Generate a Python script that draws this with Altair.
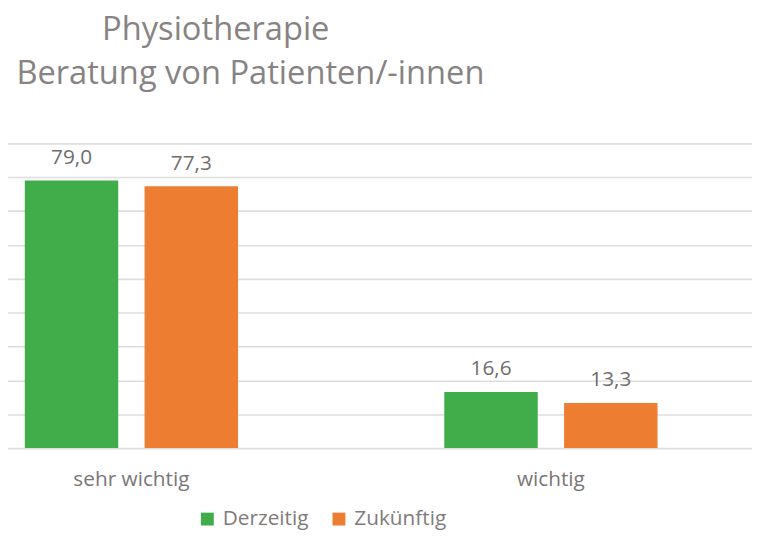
import altair as alt
import pandas as pd

categories = ["sehr wichtig", "wichtig"]
series = ["Derzeitig", "Zukünftig"]
derzeitig = [79.0, 16.6]
zukuenftig = [77.3, 13.3]
colors = ["#41ad4a", "#ed7d31"]
title_lines = ["Physiotherapie", "Beratung von Patienten/-innen"]
grid_values = [0, 10, 20, 30, 40, 50, 60, 70, 80, 90]

rows = []
for i, c in enumerate(categories):
    rows.append({"cat": c, "series": series[0], "value": derzeitig[i]})
    rows.append({"cat": c, "series": series[1], "value": zukuenftig[i]})
df = pd.DataFrame(rows)
df["label"] = df["value"].map(lambda v: f"{v:.1f}".replace(".", ","))

FONT = "Open Sans"
LEFT = -78.5  # plot area starts left of the visible page (cropped chart)
W = 752 - LEFT

x_enc = alt.X(
    "cat:N",
    sort=categories,
    scale=alt.Scale(paddingInner=0.4917, paddingOuter=0.2252),
    axis=alt.Axis(
        title=None, labelFontSize=21, labelColor="#7a7676", labelFont=FONT,
        ticks=False, tickSize=0, domain=False, labelPadding=38,
        labelBaseline="alphabetic", labelAngle=0, grid=False,
    ),
)
xo_enc = alt.XOffset("series:N", sort=series, scale=alt.Scale(paddingInner=0.22, paddingOuter=0))
y_enc = alt.Y(
    "value:Q",
    scale=alt.Scale(domain=[0, 90], nice=False),
    axis=alt.Axis(
        title=None, labels=False, ticks=False, domain=False, grid=True,
        values=grid_values, gridColor="#dedede", gridWidth=1.6,
    ),
)

base = alt.Chart(df)

bars = base.mark_bar().encode(
    x=x_enc,
    xOffset=xo_enc,
    y=y_enc,
    color=alt.Color(
        "series:N",
        sort=series,
        scale=alt.Scale(domain=series, range=colors),
        legend=alt.Legend(
            title=None, orient="none", direction="horizontal",
            legendX=203 - 8 - LEFT - 4, legendY=369,
            labelFontSize=21, labelColor="#7f7b7b", labelFont=FONT,
            symbolType="square", symbolSize=169, symbolStrokeWidth=0,
            labelOffset=5, columnPadding=20,
        ),
    ),
)

texts = base.mark_text(
    fontSize=21, font=FONT, color="#716d6d", baseline="alphabetic", dy=-17
).encode(
    x=x_enc,
    xOffset=xo_enc,
    y=y_enc,
    text="label:N",
)

title1 = alt.Chart(pd.DataFrame({"t": [title_lines[0]]})).mark_text(
    fontSize=33, font=FONT, color="#878383", baseline="alphabetic", align="center"
).encode(text="t:N", x=alt.value(218 - 8 - LEFT), y=alt.value(-104))
title2 = alt.Chart(pd.DataFrame({"t": [title_lines[1]]})).mark_text(
    fontSize=33, font=FONT, color="#878383", baseline="alphabetic", align="center"
).encode(text="t:N", x=alt.value(253 - 8 - LEFT), y=alt.value(-60))

chart = alt.layer(bars, texts, title1, title2).properties(
    width=W, height=308,
    autosize=alt.AutoSizeParams(type="none"),
    padding={"left": LEFT, "top": 134, "right": 0, "bottom": 84},
).configure(font=FONT).configure_view(stroke=None)

chart.save("out.html", embed_options={"renderer": "svg", "actions": False})
